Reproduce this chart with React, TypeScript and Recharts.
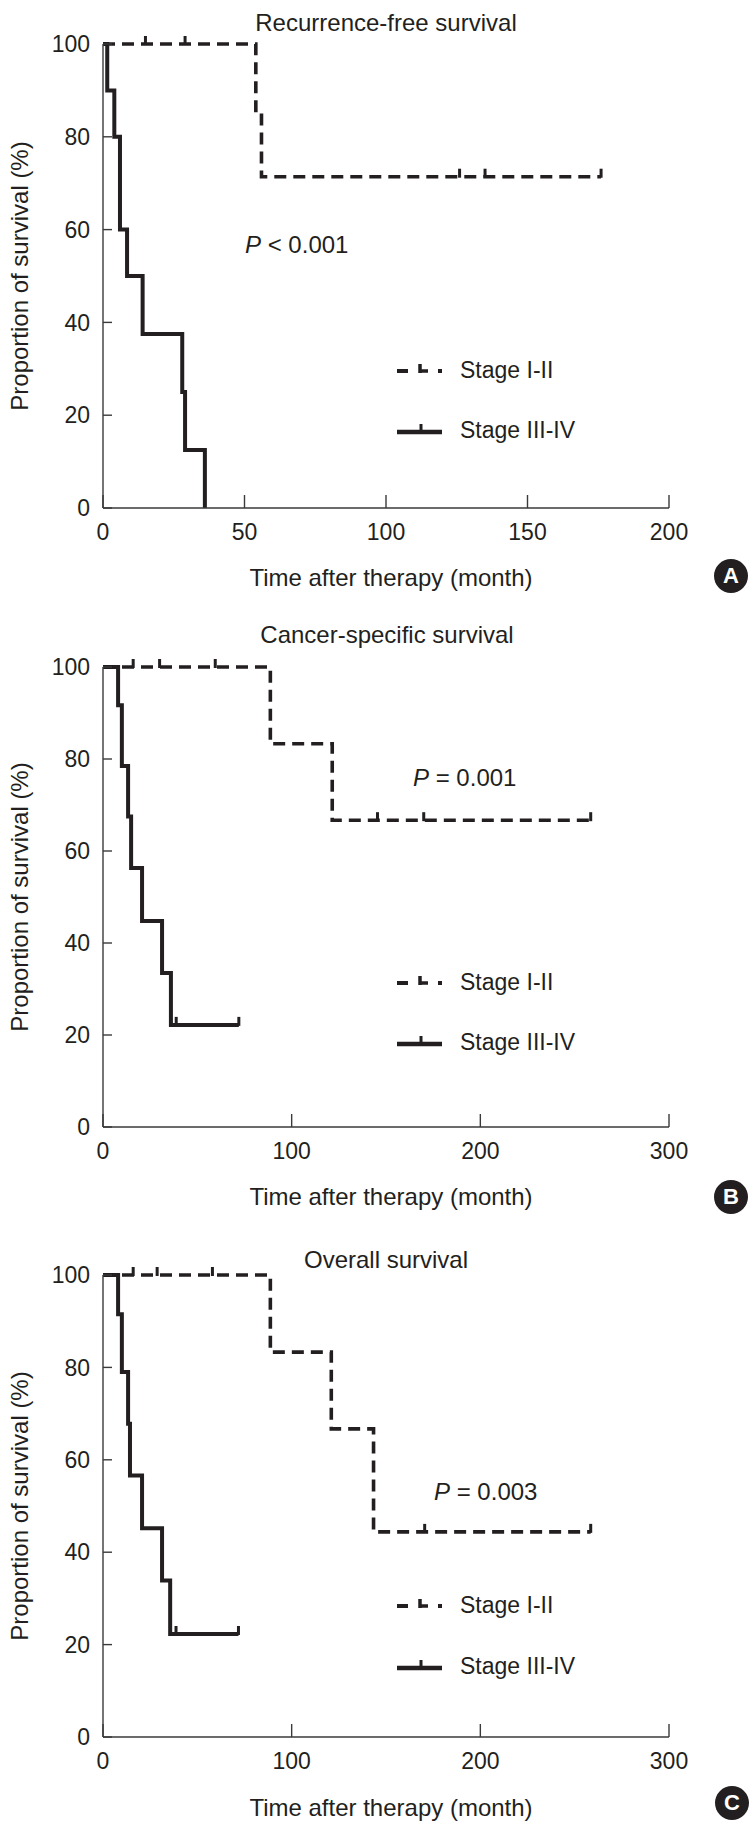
import React from "react";
import { ComposedChart, Line, Scatter, XAxis, YAxis } from "recharts";

// A: recurrence-free survival (months, %)
const rfsEarlyT = [0, 54, 56, 176];
const rfsEarlyS = [100, 85.7, 71.4, 71.4];
const rfsEarlyCensorT = [15, 29, 126, 135, 176];
const rfsEarlyCensorS = [100, 100, 71.4, 71.4, 71.4];
const rfsLateT = [0, 1.5, 4, 6, 8.5, 14, 28, 29, 36];
const rfsLateS = [100, 90, 80, 60, 50, 37.5, 25, 12.5, 0];

// B: cancer-specific survival
const cssEarlyT = [0, 88.7, 121.5, 258.5];
const cssEarlyS = [100, 83.3, 66.7, 66.7];
const cssEarlyCensorT = [16, 30, 59.5, 145.5, 170, 258.5];
const cssEarlyCensorS = [100, 100, 100, 66.7, 66.7, 66.7];
const cssLateT = [0, 8, 10, 13.3, 14.9, 20.7, 31.3, 36, 72];
const cssLateS = [100, 91.7, 78.5, 67.5, 56.3, 44.8, 33.5, 22.2, 22.2];
const cssLateCensorT = [38.8, 72];
const cssLateCensorS = [22.2, 22.2];

// C: overall survival
const osEarlyT = [0, 88.7, 121, 143.4, 258.5];
const osEarlyS = [100, 83.3, 66.7, 44.4, 44.4];
const osEarlyCensorT = [16, 28.7, 58, 170.5, 258.5];
const osEarlyCensorS = [100, 100, 100, 44.4, 44.4];
const osLateT = [0, 8, 10, 13.3, 14.3, 20.7, 31.3, 35.6, 71.8];
const osLateS = [100, 91.5, 79, 67.8, 56.6, 45.2, 33.9, 22.3, 22.3];
const osLateCensorT = [38.7, 71.8];
const osLateCensorS = [22.3, 22.3];

const yTicks = [0, 20, 40, 60, 80, 100];
const xTicksA = [0, 50, 100, 150, 200];
const xTicksBC = [0, 100, 200, 300];

const FONT = '"Liberation Sans", Arial, Helvetica, sans-serif';
const INK = "#231f20";

type Pt = { t: number; s: number };
const zip = (t: number[], s: number[]): Pt[] => t.map((v, i) => ({ t: v, s: s[i] }));

const CensorMark = (props: any) => {
  const { cx, cy } = props;
  if (cx == null || cy == null) return <g />;
  return <line x1={cx} y1={cy + 1} x2={cx} y2={cy - 8} stroke={INK} strokeWidth={3} />;
};

type PanelProps = {
  top: number;
  plotTop: number;
  plotBottom: number;
  xMax: number;
  xTicks: number[];
  early: Pt[];
  earlyCensor: Pt[];
  late: Pt[];
  lateCensor: Pt[];
};

function Panel({ top, plotTop, plotBottom, xMax, xTicks, early, earlyCensor, late, lateCensor }: PanelProps) {
  const height = plotBottom - top + 80;
  const tickStyle = { fontSize: 23, fill: INK, fontFamily: FONT };
  return (
    <div style={{ position: "absolute", left: 0, top }}>
      <ComposedChart
        width={752}
        height={height}
        margin={{ top: plotTop - top, right: 83, bottom: 40, left: 43 }}
      >
        <XAxis
          type="number"
          dataKey="t"
          domain={[0, xMax]}
          ticks={xTicks}
          interval={0}
          height={40}
          tickSize={-13}
          tickMargin={29}
          tick={tickStyle}
          axisLine={{ stroke: "#3a3a3a", strokeWidth: 1.4 }}
          tickLine={{ stroke: "#3a3a3a", strokeWidth: 1.4 }}
        />
        <YAxis
          type="number"
          domain={[0, 100]}
          ticks={yTicks}
          interval={0}
          width={60}
          tickSize={-9}
          tickMargin={22}
          tick={tickStyle}
          axisLine={{ stroke: "#3a3a3a", strokeWidth: 1.4 }}
          tickLine={{ stroke: "#3a3a3a", strokeWidth: 1.4 }}
        />
        <Line
          data={late}
          dataKey="s"
          type="stepAfter"
          stroke={INK}
          strokeWidth={4}
          dot={false}
          activeDot={false}
          isAnimationActive={false}
        />
        <Line
          data={early}
          dataKey="s"
          type="stepAfter"
          stroke={INK}
          strokeWidth={3.6}
          strokeDasharray="12 7"
          dot={false}
          activeDot={false}
          isAnimationActive={false}
        />
        <Scatter data={earlyCensor} dataKey="s" shape={CensorMark} isAnimationActive={false} />
        {lateCensor.length > 0 && (
          <Scatter data={lateCensor} dataKey="s" shape={CensorMark} isAnimationActive={false} />
        )}
      </ComposedChart>
    </div>
  );
}

const text: React.CSSProperties = {
  position: "absolute",
  fontFamily: FONT,
  color: INK,
  lineHeight: 1,
  whiteSpace: "nowrap",
};

function Centered({ x, y, size, children }: { x: number; y: number; size: number; children: React.ReactNode }) {
  return (
    <div style={{ ...text, left: x, top: y, fontSize: size, transform: "translate(-50%, -50%)" }}>{children}</div>
  );
}

function LeftText({ x, y, size, children }: { x: number; y: number; size: number; children: React.ReactNode }) {
  return <div style={{ ...text, left: x, top: y, fontSize: size, transform: "translateY(-50%)" }}>{children}</div>;
}

function YLabel({ y }: { y: number }) {
  return (
    <div style={{ ...text, left: 20, top: y, fontSize: 24, transform: "translate(-50%, -50%) rotate(-90deg)" }}>
      Proportion of survival (%)
    </div>
  );
}

function Badge({ x, y, letter }: { x: number; y: number; letter: string }) {
  return (
    <div
      style={{
        position: "absolute",
        left: x - 17,
        top: y - 17,
        width: 34,
        height: 34,
        borderRadius: 17,
        background: INK,
        color: "#fff",
        fontFamily: FONT,
        fontWeight: 700,
        fontSize: 22,
        lineHeight: "34px",
        textAlign: "center",
      }}
    >
      {letter}
    </div>
  );
}

function LegendBlock({ y1, y2 }: { y1: number; y2: number }) {
  return (
    <>
      <svg style={{ position: "absolute", left: 390, top: y1 - 15 }} width={60} height={30}>
        <line x1={7} x2={18} y1={16} y2={16} stroke={INK} strokeWidth={4} />
        <path d="M29 16 H38 M30 18 V9" stroke={INK} strokeWidth={3.5} fill="none" />
        <line x1={48} x2={52} y1={16} y2={16} stroke={INK} strokeWidth={4} />
      </svg>
      <LeftText x={460} y={y1} size={23}>Stage I-II</LeftText>
      <svg style={{ position: "absolute", left: 390, top: y2 - 15 }} width={60} height={30}>
        <line x1={7} x2={52} y1={17} y2={17} stroke={INK} strokeWidth={4.5} />
        <line x1={31} x2={31} y1={17} y2={9} stroke={INK} strokeWidth={3} />
      </svg>
      <LeftText x={460} y={y2} size={23}>Stage III-IV</LeftText>
    </>
  );
}

export default function App() {
  return (
    <div style={{ position: "absolute", left: 0, top: 0, width: 752, height: 1828, background: "#fff" }}>
      {/* A */}
      <Panel
        top={0}
        plotTop={44}
        plotBottom={508}
        xMax={200}
        xTicks={xTicksA}
        early={zip(rfsEarlyT, rfsEarlyS)}
        earlyCensor={zip(rfsEarlyCensorT, rfsEarlyCensorS)}
        late={zip(rfsLateT, rfsLateS)}
        lateCensor={[]}
      />
      <Centered x={386} y={23} size={24}>Recurrence-free survival</Centered>
      <LeftText x={245} y={245} size={24}><i>P</i> &lt; 0.001</LeftText>
      <LegendBlock y1={370} y2={430} />
      <YLabel y={276} />
      <Centered x={391} y={578} size={24}>Time after therapy (month)</Centered>
      <Badge x={731} y={576} letter="A" />

      {/* B */}
      <Panel
        top={620}
        plotTop={667}
        plotBottom={1127}
        xMax={300}
        xTicks={xTicksBC}
        early={zip(cssEarlyT, cssEarlyS)}
        earlyCensor={zip(cssEarlyCensorT, cssEarlyCensorS)}
        late={zip(cssLateT, cssLateS)}
        lateCensor={zip(cssLateCensorT, cssLateCensorS)}
      />
      <Centered x={387} y={635} size={24}>Cancer-specific survival</Centered>
      <LeftText x={413} y={778} size={24}><i>P</i> = 0.001</LeftText>
      <LegendBlock y1={982} y2={1042} />
      <YLabel y={897} />
      <Centered x={391} y={1197} size={24}>Time after therapy (month)</Centered>
      <Badge x={731} y={1197} letter="B" />

      {/* C */}
      <Panel
        top={1230}
        plotTop={1275}
        plotBottom={1737}
        xMax={300}
        xTicks={xTicksBC}
        early={zip(osEarlyT, osEarlyS)}
        earlyCensor={zip(osEarlyCensorT, osEarlyCensorS)}
        late={zip(osLateT, osLateS)}
        lateCensor={zip(osLateCensorT, osLateCensorS)}
      />
      <Centered x={386} y={1260} size={24}>Overall survival</Centered>
      <LeftText x={434} y={1492} size={24}><i>P</i> = 0.003</LeftText>
      <LegendBlock y1={1605} y2={1666} />
      <YLabel y={1506} />
      <Centered x={391} y={1808} size={24}>Time after therapy (month)</Centered>
      <Badge x={732} y={1803} letter="C" />
    </div>
  );
}
